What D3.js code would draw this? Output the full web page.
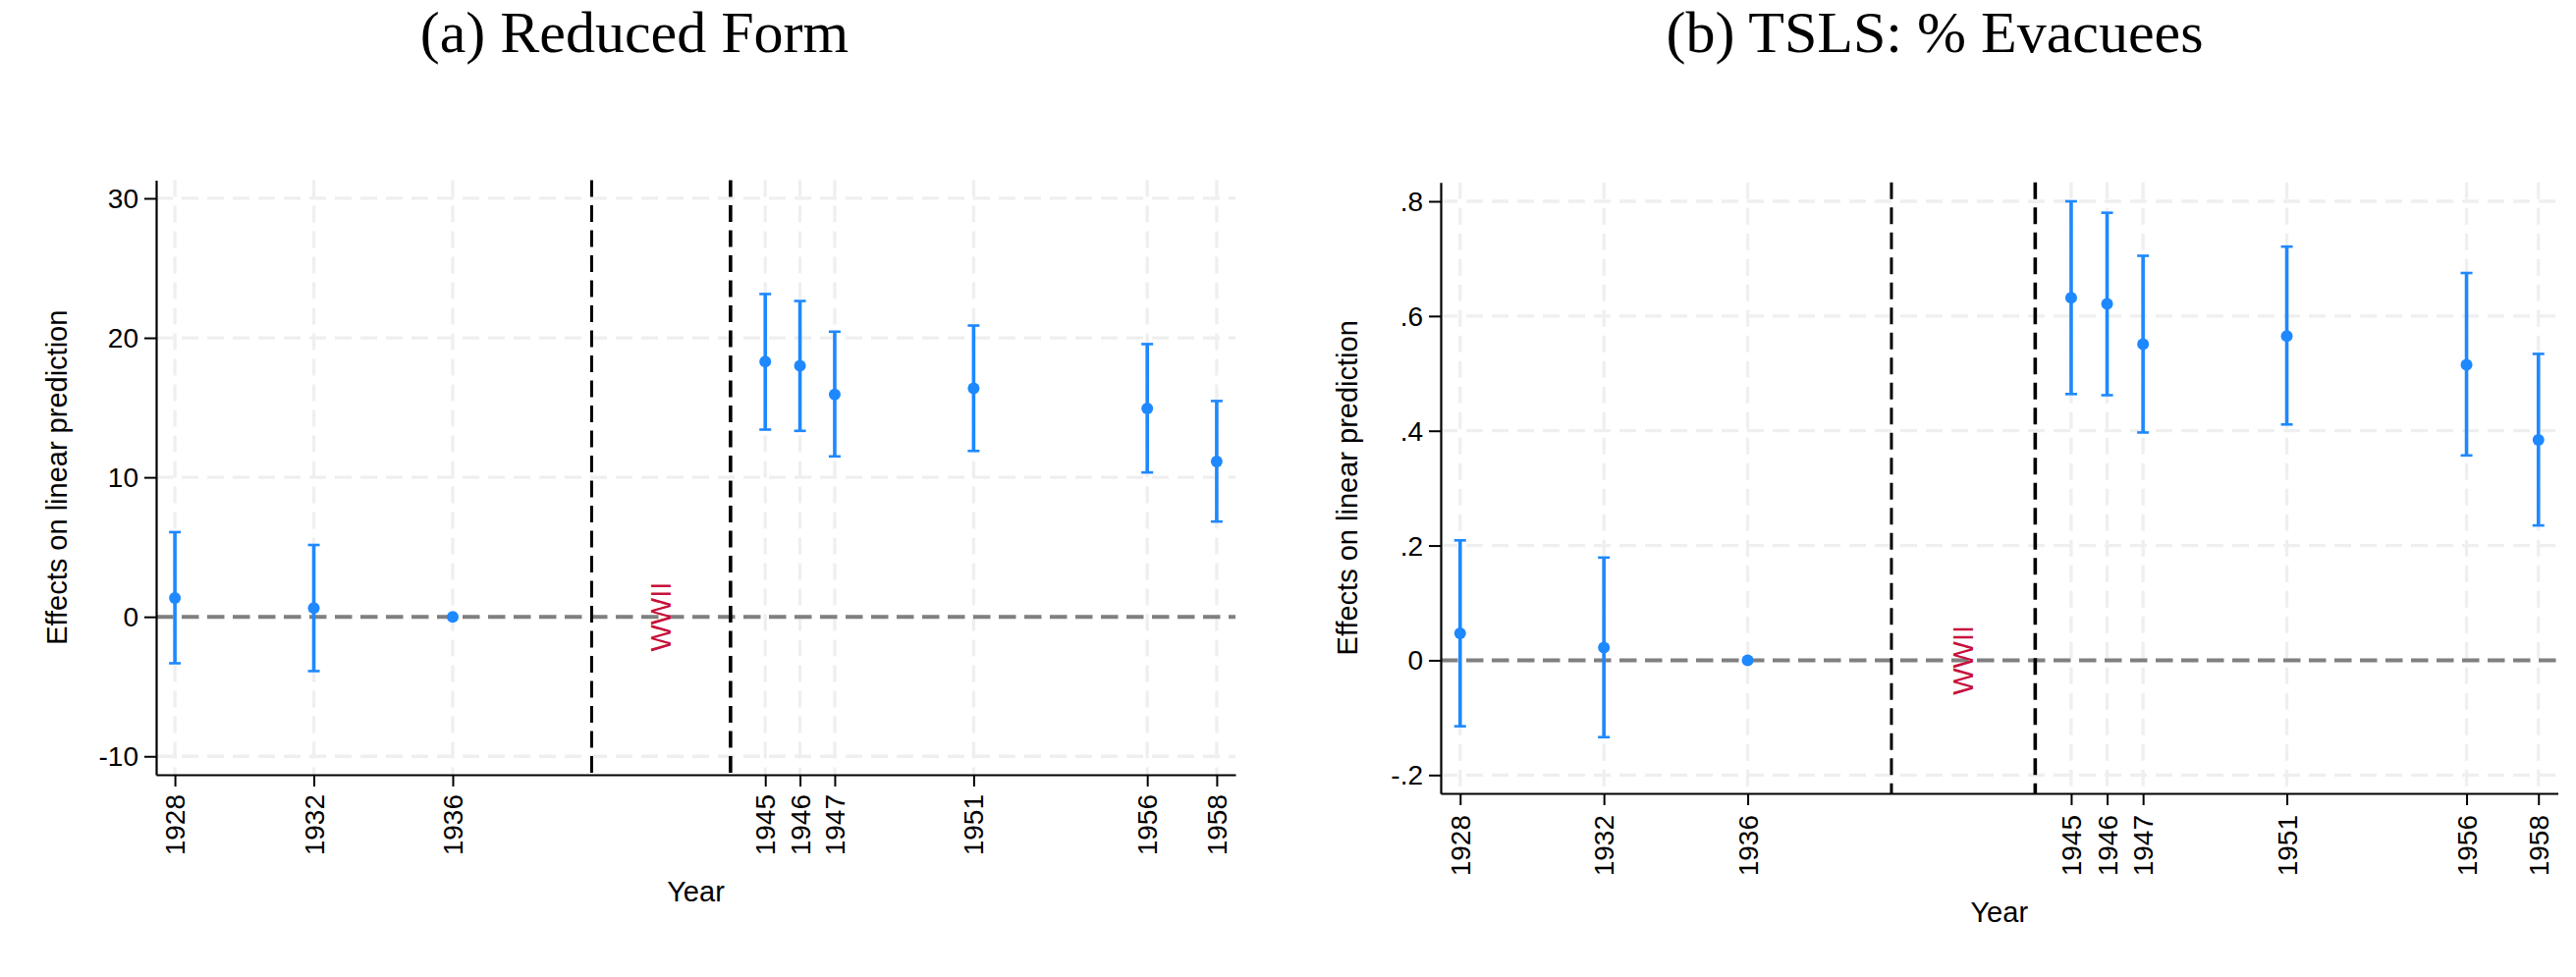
<!DOCTYPE html>
<html>
<head>
<meta charset="utf-8">
<script src="https://cdn.jsdelivr.net/npm/d3@7"></script>
<style>
  body { margin: 0; background: #fff; }
  svg { display: block; }
</style>
</head>
<body>
<svg id="chart"></svg>
<script>
// event-study estimates
const years = [1928, 1932, 1936, 1945, 1946, 1947, 1951, 1956, 1958];

const rfCoef = [1.35, 0.63, 0, 18.3, 17.99, 15.94, 16.38, 14.94, 11.13];
const rfLo   = [-3.33, -3.89, 0, 13.42, 13.33, 11.5, 11.89, 10.35, 6.83];
const rfHi   = [6.07, 5.15, 0, 23.14, 22.64, 20.44, 20.88, 19.55, 15.47];

const ivCoef = [0.047, 0.022, 0, 0.632, 0.621, 0.551, 0.565, 0.515, 0.384];
const ivLo   = [-0.115, -0.134, 0, 0.464, 0.462, 0.397, 0.411, 0.357, 0.235];
const ivHi   = [0.209, 0.179, 0, 0.800, 0.780, 0.705, 0.721, 0.675, 0.534];

const rfTicks = [-10, 0, 10, 20, 30];
const rfTickLabels = ["-10", "0", "10", "20", "30"];
const ivTicks = [-0.2, 0, 0.2, 0.4, 0.6, 0.8];
const ivTickLabels = ["-.2", "0", ".2", ".4", ".6", ".8"];

const warLines = [1940, 1944];
const warLabelYear = 1942;
const warLabel = "WWII";

const titles = ["(a) Reduced Form", "(b) TSLS: % Evacuees"];
const yTitle = "Effects on linear prediction";
const xTitle = "Year";

const W = 2623, H = 995;
const svg = d3.select("#chart").attr("width", W).attr("height", H);

const blue = "#1e88ff";
const sans = "'Liberation Sans', Arial, sans-serif";

function panel(opt) {
  const g = svg.append("g");
  const x = d3.scaleLinear().domain([1927.46, 1958.54]).range([opt.left, opt.right]);
  const y = d3.scaleLinear().domain(opt.yDomain).range([opt.bottom, opt.top]);

  // title
  g.append("text")
    .attr("x", opt.titleX).attr("y", 53)
    .attr("text-anchor", "middle")
    .attr("font-family", "'Liberation Serif', 'Times New Roman', serif")
    .attr("font-size", 60)
    .text(opt.title);

  // gridlines
  g.selectAll(".hgrid").data(opt.ticks).enter().append("line")
    .attr("x1", opt.left).attr("x2", opt.right)
    .attr("y1", d => y(d)).attr("y2", d => y(d))
    .attr("stroke", "#efefef").attr("stroke-width", 3.3)
    .attr("stroke-dasharray", "17,9");
  g.selectAll(".vgrid").data(years).enter().append("line")
    .attr("x1", d => x(d)).attr("x2", d => x(d))
    .attr("y1", opt.top).attr("y2", opt.bottom)
    .attr("stroke", "#efefef").attr("stroke-width", 3.3)
    .attr("stroke-dasharray", "17,9");

  // zero line
  g.append("line")
    .attr("x1", opt.left).attr("x2", opt.right)
    .attr("y1", y(0)).attr("y2", y(0))
    .attr("stroke", "#808080").attr("stroke-width", 4)
    .attr("stroke-dasharray", "17.5,8.5");

  // war period lines
  g.selectAll(".war").data(warLines).enter().append("line")
    .attr("x1", d => x(d)).attr("x2", d => x(d))
    .attr("y1", opt.top).attr("y2", opt.bottom)
    .attr("stroke", "#000").attr("stroke-width", (d, i) => i ? 3.6 : 3)
    .attr("stroke-dasharray", "17,8.5");

  g.append("text")
    .attr("transform", `translate(${x(warLabelYear)},${y(0)}) rotate(-90)`)
    .attr("text-anchor", "middle")
    .attr("dominant-baseline", "central")
    .attr("font-family", sans).attr("font-size", 29)
    .attr("fill", "#c8103c")
    .text(warLabel);

  // confidence intervals
  const rows = years.map((yr, i) => ({ yr, c: opt.coef[i], lo: opt.lo[i], hi: opt.hi[i] }));
  const ci = rows.filter(d => d.hi !== d.lo);
  g.selectAll(".bar").data(ci).enter().append("line")
    .attr("x1", d => x(d.yr)).attr("x2", d => x(d.yr))
    .attr("y1", d => y(d.lo)).attr("y2", d => y(d.hi))
    .attr("stroke", blue).attr("stroke-width", 3.6);
  ["lo", "hi"].forEach(k => {
    g.selectAll(".cap-" + k).data(ci).enter().append("line")
      .attr("x1", d => x(d.yr) - 6).attr("x2", d => x(d.yr) + 6)
      .attr("y1", d => y(d[k])).attr("y2", d => y(d[k]))
      .attr("stroke", blue).attr("stroke-width", 2.6);
  });
  g.selectAll(".pt").data(rows).enter().append("circle")
    .attr("cx", d => x(d.yr)).attr("cy", d => y(d.c))
    .attr("r", 6).attr("fill", blue);

  // axes
  const yAxis = g.append("g")
    .attr("transform", `translate(${opt.left},0)`)
    .call(d3.axisLeft(y).tickValues(opt.ticks)
      .tickFormat((d, i) => opt.tickLabels[i])
      .tickSize(12).tickSizeOuter(0).tickPadding(6));
  const xAxis = g.append("g")
    .attr("transform", `translate(0,${opt.bottom})`)
    .call(d3.axisBottom(x).tickValues(years)
      .tickFormat(d3.format("d"))
      .tickSize(12).tickSizeOuter(0));
  [yAxis, xAxis].forEach(a => {
    a.select(".domain").attr("stroke", "#000").attr("stroke-width", 2.2);
    a.selectAll(".tick line").attr("stroke", "#000").attr("stroke-width", 2);
    a.selectAll("text").attr("font-family", sans).attr("font-size", 28).attr("fill", "#000");
  });
  yAxis.selectAll("text").attr("dy", null).attr("dominant-baseline", "central");
  xAxis.selectAll("text")
    .attr("y", null).attr("dy", null)
    .attr("transform", `translate(0,${opt.xLabelGap}) rotate(-90)`)
    .attr("text-anchor", "end")
    .attr("dominant-baseline", "central");

  // axis titles
  g.append("text")
    .attr("transform", `translate(${opt.yTitleX},${(opt.top + opt.bottom) / 2}) rotate(-90)`)
    .attr("text-anchor", "middle").attr("dominant-baseline", "central")
    .attr("font-family", sans).attr("font-size", 29)
    .text(yTitle);
  g.append("text")
    .attr("x", (opt.left + opt.right) / 2).attr("y", opt.xTitleY)
    .attr("text-anchor", "middle")
    .attr("font-family", sans).attr("font-size", 29)
    .text(xTitle);
}

panel({
  title: titles[0], titleX: 646,
  left: 159, right: 1258, top: 183.5, bottom: 789,
  yDomain: [-11.32, 31.3],
  ticks: rfTicks, tickLabels: rfTickLabels,
  coef: rfCoef, lo: rfLo, hi: rfHi,
  xLabelGap: 20, yTitleX: 57.5, xTitleY: 918
});

panel({
  title: titles[1], titleX: 1970,
  left: 1467, right: 2604.5, top: 185.7, bottom: 808,
  yDomain: [-0.232, 0.833],
  ticks: ivTicks, tickLabels: ivTickLabels,
  coef: ivCoef, lo: ivLo, hi: ivHi,
  xLabelGap: 22, yTitleX: 1372, xTitleY: 939
});
</script>
</body>
</html>
